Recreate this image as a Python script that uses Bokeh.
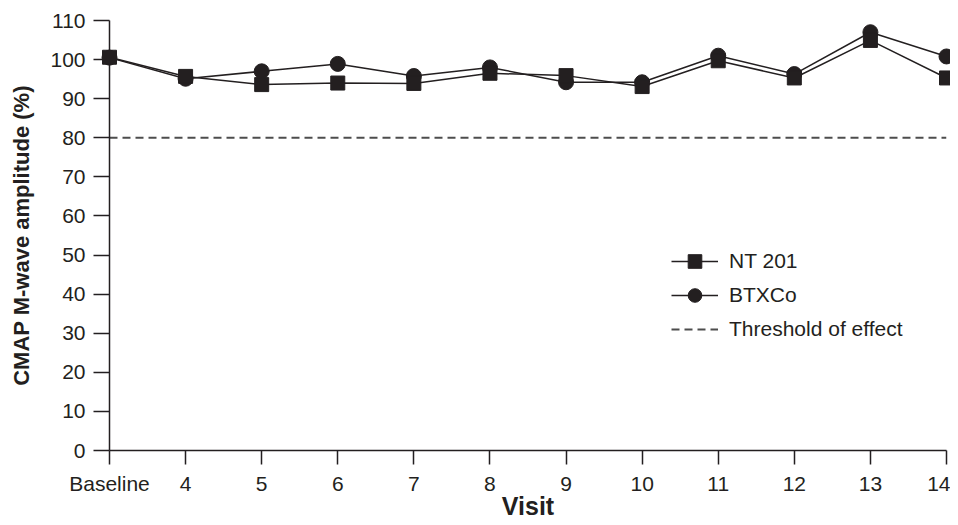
from bokeh.plotting import figure
from bokeh.models import Range1d, FixedTicker, Legend, LegendItem
from bokeh.embed import file_html
from bokeh.resources import INLINE

visits = ["Baseline", "4", "5", "6", "7", "8", "9", "10", "11", "12", "13", "14"]
nt201 = [100.6, 95.7, 93.6, 94.0, 93.9, 96.5, 95.9, 93.1, 99.7, 95.3, 104.9, 95.3]
btxco = [100.5, 95.1, 97.0, 98.9, 95.8, 98.0, 94.2, 94.2, 101.0, 96.3, 107.0, 100.8]
threshold = 80
y_ticks = [0, 10, 20, 30, 40, 50, 60, 70, 80, 90, 100, 110]

xs = list(range(len(visits)))
ink = "#231f20"
font = "Liberation Sans"

p = figure(frame_width=837, frame_height=430,
           min_border_left=109, min_border_right=4, min_border_top=20, min_border_bottom=20,
           x_range=Range1d(0, len(visits) - 1), y_range=Range1d(0, 110),
           output_backend="svg", toolbar_location=None)
p.outline_line_color = None
p.grid.visible = False
p.background_fill_color = "white"
p.border_fill_color = "white"

th = p.line([xs[0], xs[-1]], [threshold, threshold], line_color="#4d4d4d", line_width=2,
            line_dash="8 5")

bl = p.line(xs, btxco, line_color=ink, line_width=1.5, level="overlay")
bs = p.scatter(xs, btxco, marker="circle", size=15, fill_color=ink, line_color=ink, level="overlay")
nl = p.line(xs, nt201, line_color=ink, line_width=1.5, level="overlay")
ns = p.scatter(xs, nt201, marker="square", size=14, fill_color=ink, line_color=ink, level="overlay")

xa = p.xaxis[0]
xa.ticker = FixedTicker(ticks=xs)
xa.major_label_overrides = {i: v for i, v in enumerate(visits)}
ya = p.yaxis[0]
ya.ticker = FixedTicker(ticks=y_ticks)

for ax in (xa, ya):
    ax.axis_line_color = ink
    ax.axis_line_width = 1.5
    ax.major_tick_line_color = ink
    ax.major_tick_line_width = 1.5
    ax.major_tick_in = 0
    ax.minor_tick_line_color = None
    ax.major_label_text_font = font
    ax.major_label_text_font_size = "21px"
    ax.major_label_text_color = ink
    ax.axis_label_text_font = font
    ax.axis_label_text_font_style = "bold"
    ax.axis_label_text_color = ink

xa.axis_label_text_font_size = "25px"
ya.axis_label_text_font_size = "22px"
xa.major_tick_out = 14
ya.major_tick_out = 16
xa.major_label_standoff = 7
ya.major_label_standoff = 8
xa.axis_label = "Visit"
ya.axis_label = "CMAP M-wave amplitude (%)"
xa.axis_label_standoff = -6
ya.axis_label_standoff = 13

legend = Legend(items=[
    LegendItem(label="NT 201", renderers=[nl, ns]),
    LegendItem(label="BTXCo", renderers=[bl, bs]),
    LegendItem(label="Threshold of effect", renderers=[th]),
], location=(562, 104))
legend.border_line_color = None
legend.background_fill_alpha = 0
legend.padding = 0
legend.margin = 0
legend.spacing = 0
legend.glyph_width = 47
legend.glyph_height = 34
legend.label_standoff = 11
legend.label_text_font = font
legend.label_text_font_size = "21px"
legend.label_text_color = ink
p.add_layout(legend, "center")

open("out.html", "w").write(file_html(p, INLINE))
